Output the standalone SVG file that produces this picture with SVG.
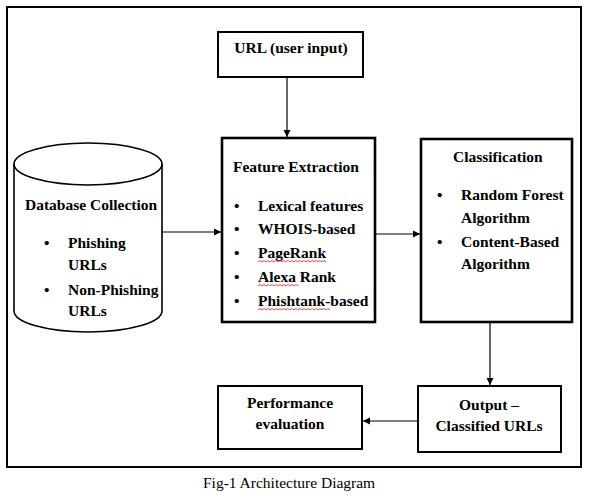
<svg xmlns="http://www.w3.org/2000/svg" width="593" height="498" viewBox="0 0 593 498">
<style>
  .b { font-family: "Liberation Serif", "Times New Roman", serif; font-weight: bold; font-size: 15.5px; fill: #000; }
  .cap { font-family: "Liberation Serif", "Times New Roman", serif; font-size: 15.5px; fill: #000; }
  .box { fill: #fff; stroke: #000; stroke-width: 2; }
  .thick { fill: #fff; stroke: #000; stroke-width: 2.6; }
  .conn { stroke: #000; stroke-width: 1.2; fill: none; marker-end: url(#ah); }
  .sq { stroke: #e02020; stroke-width: 0.8; fill: none; }
  .c { text-anchor: middle; }
</style>
<defs>
  <marker id="ah" markerWidth="8" markerHeight="8" refX="7" refY="4" orient="auto" markerUnits="userSpaceOnUse">
    <path d="M0,0.5 L7,4 L0,7.5 Z" fill="#000"/>
  </marker>
</defs>
<rect x="0" y="0" width="593" height="498" fill="#fff"/>
<rect id="frame" x="7" y="7" width="574" height="460" fill="none" stroke="#000" stroke-width="2"/>

<g id="url">
  <rect class="box" x="218" y="32" width="145" height="45"/>
  <text class="b c" x="291" y="53">URL (user input)</text>
</g>

<g id="database">
  <path d="M14,164 L14,311 A74,21 0 0 0 162,311 L162,164" fill="#fff" stroke="#000" stroke-width="1.6"/>
  <ellipse cx="88" cy="164" rx="74" ry="21" fill="#fff" stroke="#000" stroke-width="1.6"/>
  <text class="b" x="25" y="210">Database Collection</text>
  <text class="b" x="44" y="248">•</text><text class="b" x="68" y="248">Phishing</text>
  <text class="b" x="68" y="270">URLs</text>
  <text class="b" x="44" y="295">•</text><text class="b" x="68" y="295">Non-Phishing</text>
  <text class="b" x="68" y="316">URLs</text>
</g>

<g id="feature">
  <rect class="thick" x="222" y="138" width="153" height="184"/>
  <text class="b" x="233" y="172">Feature Extraction</text>
  <text class="b" x="234" y="211">•</text><text class="b" x="258" y="211">Lexical features</text>
  <text class="b" x="234" y="234">•</text><text class="b" x="258" y="234">WHOIS-based</text>
  <text class="b" x="234" y="258">•</text><text class="b" x="258" y="258">PageRank</text>
  <text class="b" x="234" y="282">•</text><text class="b" x="258" y="282">Alexa Rank</text>
  <text class="b" x="234" y="306">•</text><text class="b" x="258" y="306">Phishtank-based</text>
  <path class="sq" d="M258,262 l2,-1.5 l2,1.5 l2,-1.5 l2,1.5 l2,-1.5 l2,1.5 l2,-1.5 l2,1.5 l2,-1.5 l2,1.5 l2,-1.5 l2,1.5 l2,-1.5 l2,1.5 l2,-1.5 l2,1.5 l2,-1.5 l2,1.5 l2,-1.5 l2,1.5 l2,-1.5 l2,1.5 l2,-1.5 l2,1.5 l2,-1.5 l2,1.5 l2,-1.5 l2,1.5 l2,-1.5 l2,1.5 l2,-1.5 l2,1.5 l2,-1.5 l2,1.5"/>
  <path class="sq" d="M258,286 l2,-1.5 l2,1.5 l2,-1.5 l2,1.5 l2,-1.5 l2,1.5 l2,-1.5 l2,1.5 l2,-1.5 l2,1.5 l2,-1.5 l2,1.5 l2,-1.5 l2,1.5 l2,-1.5 l2,1.5 l2,-1.5 l2,1.5 l2,-1.5 l2,1.5"/>
  <path class="sq" d="M258,310 l2,-1.5 l2,1.5 l2,-1.5 l2,1.5 l2,-1.5 l2,1.5 l2,-1.5 l2,1.5 l2,-1.5 l2,1.5 l2,-1.5 l2,1.5 l2,-1.5 l2,1.5 l2,-1.5 l2,1.5 l2,-1.5 l2,1.5 l2,-1.5 l2,1.5 l2,-1.5 l2,1.5 l2,-1.5 l2,1.5 l2,-1.5 l2,1.5 l2,-1.5 l2,1.5 l2,-1.5 l2,1.5 l2,-1.5 l2,1.5 l2,-1.5 l2,1.5 l2,-1.5 l2,1.5"/>
</g>

<g id="classification">
  <rect class="thick" x="421" y="139" width="151" height="183"/>
  <text class="b" x="453" y="162">Classification</text>
  <text class="b" x="437" y="200">•</text><text class="b" x="461" y="200">Random Forest</text>
  <text class="b" x="461" y="223">Algorithm</text>
  <text class="b" x="437" y="247">•</text><text class="b" x="461" y="247">Content-Based</text>
  <text class="b" x="461" y="269">Algorithm</text>
</g>

<g id="output">
  <rect class="box" x="418" y="386" width="143" height="66"/>
  <text class="b c" x="489" y="410">Output –</text>
  <text class="b c" x="489" y="431">Classified URLs</text>
</g>

<g id="performance">
  <rect class="box" x="218" y="386" width="144" height="63"/>
  <text class="b c" x="290" y="408">Performance</text>
  <text class="b c" x="290" y="429">evaluation</text>
</g>

<g id="connectors">
  <line class="conn" x1="287" y1="77" x2="287" y2="137"/>
  <line class="conn" x1="162" y1="232" x2="221" y2="232"/>
  <line class="conn" x1="376" y1="234" x2="420" y2="234"/>
  <line class="conn" x1="490" y1="322" x2="490" y2="385"/>
  <line class="conn" x1="418" y1="421" x2="363" y2="421"/>
</g>

<text class="cap" x="203" y="488">Fig-1 Architecture Diagram</text>
</svg>
